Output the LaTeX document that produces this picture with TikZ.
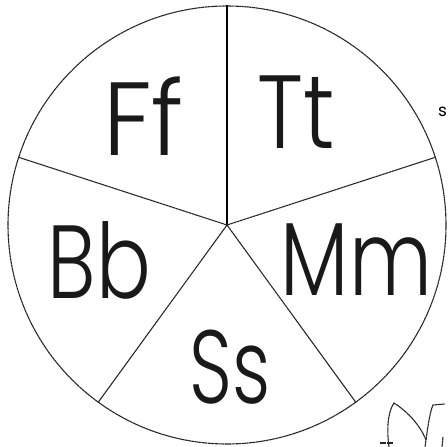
\documentclass[tikz,border=0pt]{standalone}
\usepackage{fontspec}
\IfFontExistsTF{Poppins Light}{\newfontfamily\letterfont{Poppins Light}}{\newfontfamily\letterfont{Poppins}}
\newfontfamily\smallfont{Poppins}
\newcommand{\narrow}[2]{\scalebox{#1}[1]{#2}}
\begin{document}
\begin{tikzpicture}[x=1pt,y=-1pt,
  sketch/.style={draw=black!85, line width=1.1pt, dash pattern=on 3pt off 0.4pt},
  spoke/.style={sketch},
  mainspoke/.style={draw=black, line width=1.4pt},
  letters/.style={font=\letterfont\fontsize{104}{104}\selectfont, anchor=base, inner sep=0pt, text=black!90},
  tiny/.style={font=\smallfont\fontsize{17}{17}\selectfont, anchor=base west, inner sep=0pt}]
\useasboundingbox (0,0) rectangle (448,447);
\fill[white] (0,0) rectangle (448,447);
\coordinate (c) at (227,225);
\node[circle, minimum size=438pt, inner sep=0pt, sketch] (circ) at (c) {};
\draw[mainspoke] (c) -- (circ.90);
\draw[spoke] (c) -- (circ.18);
\draw[spoke] (c) -- (circ.162);
\draw[spoke] (c) -- (circ.234);
\draw[spoke] (c) -- (circ.306);
\node[letters] (ff) at (143.5,155) {\narrow{0.95}{Ff}};
\node[letters] (tt) at (296,148) {\narrow{0.85}{Tt}};
\node[letters] (bb) at (99.5,298) {\narrow{0.78}{Bb}};
\node[letters] (mm) at (356.5,295) {\narrow{0.78}{Mm}};
\node[letters] (ss) at (230,403) {\narrow{0.72}{Ss}};
\node[tiny] (s) at (438,116) {s};
% leaf scribble bottom right
\draw[sketch] (389,447) .. controls (386,425) and (389,410) .. (394,403)
  .. controls (408,412) and (420,425) .. (426,440) -- (425,447);
\draw[sketch] (426,440) .. controls (428,425) and (430,412) .. (433,405) -- (445,404);
\draw[sketch] (380,443) -- (393,443);
\draw[sketch] (443,437) -- (442,447);
\end{tikzpicture}
\end{document}
